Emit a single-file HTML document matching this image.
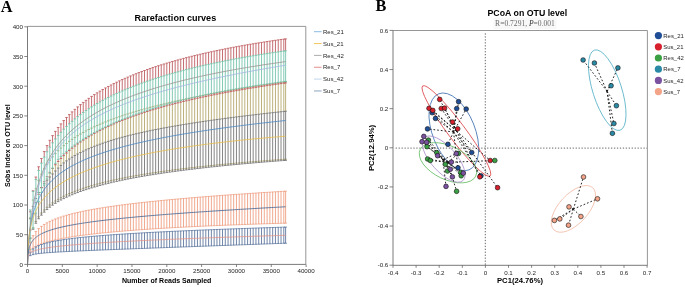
<!DOCTYPE html><html><head><meta charset="utf-8"><style>html,body{margin:0;padding:0;background:#fff;}svg{display:block;will-change:transform;}text{font-family:"Liberation Sans",sans-serif;}</style></head><body>
<svg width="685" height="287" viewBox="0 0 685 287">
<text x="0.8" y="11.5" style="font-family:'Liberation Serif',serif;font-weight:bold;font-size:16.3px">A</text>
<text x="134.6" y="21.4" textLength="81.6" lengthAdjust="spacingAndGlyphs" style="font-weight:bold;font-size:9.3px">Rarefaction curves</text>
<path d="M47.00 178.76V180.15M49.79 173.30V176.97M52.57 168.36V173.91M55.36 164.78V170.95M58.15 161.50V168.10M60.93 158.47V165.37M63.72 155.66V162.95M66.50 153.04V160.89M69.29 150.58V158.98M72.08 148.27V157.21M74.86 146.08V155.55M77.65 144.01V154.00M80.43 142.04V152.54M83.22 140.17V151.16M86.01 138.38V149.85M88.79 136.67V148.61M91.58 135.02V147.43M94.36 133.45V146.31M97.15 131.93V145.23M99.94 130.47V144.21M102.72 129.06V143.22M105.51 127.70V142.27M108.29 126.38V141.36M111.08 125.11V140.48M113.87 123.88V139.63M116.65 122.68V138.81M119.44 121.52V138.02M122.22 120.40V137.25M125.01 119.30V136.51M127.80 118.24V135.79M130.58 117.20V135.09M133.37 116.19V134.41M136.15 115.21V133.74M138.94 114.25V133.10M141.73 113.31V132.47M144.51 112.40V131.86M147.30 111.50V131.26M150.08 110.63V130.67M152.87 109.78V130.10M155.66 108.95V129.54M158.44 108.13V129.00M161.23 107.34V128.46M164.01 106.55V127.94M166.80 105.79V127.42M169.59 105.04V126.92M172.37 104.31V126.42M175.16 103.59V125.94M177.94 102.88V125.46M180.73 102.19V124.99M183.52 101.51V124.53M186.30 100.84V124.08M189.09 100.19V123.63M191.87 99.54V123.20M194.66 98.91V122.76M197.45 98.29V122.34M200.23 97.68V121.92M203.02 97.08V121.51M205.80 96.49V121.10M208.59 95.91V120.70M211.38 95.34V120.30M214.16 94.78V119.91M216.95 94.23V119.53M219.73 93.69V119.15M222.52 93.15V118.77M225.31 92.63V118.40M228.09 92.11V118.03M230.88 91.60V117.67M233.66 91.10V117.31M236.45 90.61V116.95M239.24 90.12V116.60M242.02 89.64V116.26M244.81 89.17V115.91M247.59 88.70V115.57M250.38 88.24V115.23M253.17 87.79V114.90M255.95 87.34V114.57M258.74 86.90V114.24M261.52 86.47V113.92M264.31 86.04V113.60M267.10 85.62V113.28M269.88 85.20V112.96M272.67 84.79V112.65M275.45 84.39V112.34M278.24 83.99V112.03M281.03 83.59V111.72M283.81 83.21V111.42M285.62 82.96V111.22" stroke="#b0a264" stroke-width="0.85" fill="none"/>
<path d="M28.99 217.81h2.60M28.99 237.67h2.60M31.77 200.04h2.60M31.77 227.77h2.60M34.56 188.85h2.60M34.56 221.46h2.60M37.34 180.66h2.60M37.34 216.79h2.60M40.13 174.19h2.60M40.13 213.07h2.60M42.92 168.85h2.60M42.92 209.97h2.60M45.70 164.29h2.60M45.70 207.31h2.60M48.49 160.32h2.60M48.49 204.98h2.60M51.27 156.80h2.60M51.27 202.89h2.60M54.06 153.63h2.60M54.06 201.02h2.60M56.85 150.76h2.60M56.85 199.31h2.60M59.63 148.12h2.60M59.63 197.73h2.60M62.42 145.69h2.60M62.42 196.28h2.60M65.20 143.43h2.60M65.20 194.92h2.60M67.99 141.32h2.60M67.99 193.65h2.60M70.78 139.35h2.60M70.78 192.46h2.60M73.56 137.48h2.60M73.56 191.34h2.60M76.35 135.72h2.60M76.35 190.28h2.60M79.13 134.05h2.60M79.13 189.27h2.60M81.92 132.46h2.60M81.92 188.31h2.60M84.71 130.95h2.60M84.71 187.39h2.60M87.49 129.50h2.60M87.49 186.52h2.60M90.28 128.11h2.60M90.28 185.68h2.60M93.06 126.78h2.60M93.06 184.87h2.60M95.85 125.50h2.60M95.85 184.10h2.60M98.64 124.27h2.60M98.64 183.36h2.60M101.42 123.08h2.60M101.42 182.64h2.60M104.21 121.94h2.60M104.21 181.95h2.60M106.99 120.83h2.60M106.99 181.28h2.60M109.78 119.75h2.60M109.78 180.63h2.60M112.57 118.71h2.60M112.57 180.01h2.60M115.35 117.70h2.60M115.35 179.40h2.60M118.14 116.71h2.60M118.14 178.81h2.60M120.92 115.76h2.60M120.92 178.24h2.60M123.71 114.83h2.60M123.71 177.68h2.60M126.50 113.92h2.60M126.50 177.14h2.60M129.28 113.04h2.60M129.28 176.62h2.60M132.07 112.18h2.60M132.07 176.11h2.60M134.85 111.34h2.60M134.85 175.61h2.60M137.64 110.52h2.60M137.64 175.12h2.60M140.43 109.72h2.60M140.43 174.65h2.60M143.21 108.93h2.60M143.21 174.18h2.60M146.00 108.16h2.60M146.00 173.73h2.60M148.78 107.41h2.60M148.78 173.29h2.60M151.57 106.67h2.60M151.57 172.86h2.60M154.36 105.95h2.60M154.36 172.44h2.60M157.14 105.24h2.60M157.14 172.02h2.60M159.93 104.55h2.60M159.93 171.62h2.60M162.71 103.86h2.60M162.71 171.22h2.60M165.50 103.19h2.60M165.50 170.84h2.60M168.29 102.54h2.60M168.29 170.46h2.60M171.07 101.89h2.60M171.07 170.08h2.60M173.86 101.25h2.60M173.86 169.72h2.60M176.64 100.63h2.60M176.64 169.36h2.60M179.43 100.01h2.60M179.43 169.01h2.60M182.22 99.41h2.60M182.22 168.67h2.60M185.00 98.81h2.60M185.00 168.33h2.60M187.79 98.22h2.60M187.79 168.00h2.60M190.57 97.64h2.60M190.57 167.67h2.60M193.36 97.07h2.60M193.36 167.35h2.60M196.15 96.51h2.60M196.15 167.03h2.60M198.93 95.96h2.60M198.93 166.72h2.60M201.72 95.41h2.60M201.72 166.42h2.60M204.50 94.87h2.60M204.50 166.12h2.60M207.29 94.34h2.60M207.29 165.83h2.60M210.08 93.81h2.60M210.08 165.54h2.60M212.86 93.30h2.60M212.86 165.25h2.60M215.65 92.78h2.60M215.65 164.97h2.60M218.43 92.28h2.60M218.43 164.69h2.60M221.22 91.78h2.60M221.22 164.42h2.60M224.01 91.29h2.60M224.01 164.16h2.60M226.79 90.80h2.60M226.79 163.89h2.60M229.58 90.32h2.60M229.58 163.63h2.60M232.36 89.84h2.60M232.36 163.38h2.60M235.15 89.37h2.60M235.15 163.12h2.60M237.94 88.91h2.60M237.94 162.88h2.60M240.72 88.45h2.60M240.72 162.63h2.60M243.51 87.99h2.60M243.51 162.39h2.60M246.29 87.54h2.60M246.29 162.15h2.60M249.08 87.09h2.60M249.08 161.92h2.60M251.87 86.65h2.60M251.87 161.69h2.60M254.65 86.21h2.60M254.65 161.46h2.60M257.44 85.78h2.60M257.44 161.23h2.60M260.22 85.35h2.60M260.22 161.01h2.60M263.01 84.93h2.60M263.01 160.79h2.60M265.80 84.51h2.60M265.80 160.58h2.60M268.58 84.09h2.60M268.58 160.36h2.60M271.37 83.68h2.60M271.37 160.15h2.60M274.15 83.27h2.60M274.15 159.95h2.60M276.94 82.87h2.60M276.94 159.74h2.60M279.73 82.46h2.60M279.73 159.54h2.60M282.51 82.07h2.60M282.51 159.34h2.60M284.32 81.81h2.60M284.32 159.21h2.60" stroke="#b0a264" stroke-width="0.8" fill="none"/>
<path d="M33.07 228.16V229.29M35.86 213.10V223.26M38.64 201.67V218.77M41.43 192.58V215.17M44.22 185.09V212.15M47.00 180.15V209.54M49.79 176.97V207.24M52.57 173.91V205.19M55.36 170.95V203.33M58.15 168.10V201.63M60.93 165.37V200.06M63.72 162.95V198.60M66.50 160.89V197.24M69.29 158.98V195.97M72.08 157.21V194.77M74.86 155.55V193.63M77.65 154.00V192.56M80.43 152.54V191.53M83.22 151.16V190.56M86.01 149.85V189.63M88.79 148.61V188.73M91.58 147.43V187.88M94.36 146.31V187.06M97.15 145.23V186.27M99.94 144.21V185.50M102.72 143.22V184.77M105.51 142.27V184.06M108.29 141.36V183.37M111.08 140.48V182.70M113.87 139.63V182.06M116.65 138.81V181.43M119.44 138.02V180.82M122.22 137.25V180.23M125.01 136.51V179.66M127.80 135.79V179.10M130.58 135.09V178.56M133.37 134.41V178.03M136.15 133.74V177.51M138.94 133.10V177.00M141.73 132.47V176.51M144.51 131.86V176.03M147.30 131.26V175.56M150.08 130.67V175.10M152.87 130.10V174.65M155.66 129.54V174.21M158.44 129.00V173.78M161.23 128.46V173.36M164.01 127.94V172.95M166.80 127.42V172.54M169.59 126.92V172.15M172.37 126.42V171.76M175.16 125.94V171.38M177.94 125.46V171.01M180.73 124.99V170.64M183.52 124.53V170.28M186.30 124.08V169.92M189.09 123.63V169.58M191.87 123.20V169.24M194.66 122.76V168.90M197.45 122.34V168.57M200.23 121.92V168.25M203.02 121.51V167.93M205.80 121.10V167.62M208.59 120.70V167.31M211.38 120.30V167.00M214.16 119.91V166.71M216.95 119.53V166.41M219.73 119.15V166.12M222.52 118.77V165.84M225.31 118.40V165.56M228.09 118.03V165.28M230.88 117.67V165.01M233.66 117.31V164.74M236.45 116.95V164.48M239.24 116.60V164.22M242.02 116.26V163.96M244.81 115.91V163.71M247.59 115.57V163.46M250.38 115.23V163.22M253.17 114.90V162.97M255.95 114.57V162.73M258.74 114.24V162.50M261.52 113.92V162.27M264.31 113.60V162.04M267.10 113.28V161.81M269.88 112.96V161.59M272.67 112.65V161.37M275.45 112.34V161.15M278.24 112.03V160.94M281.03 111.72V160.72M283.81 111.42V160.52M285.62 111.22V160.38" stroke="#6e6e6e" stroke-width="0.85" fill="none"/>
<path d="M28.99 218.74h2.60M28.99 238.67h2.60M31.77 206.40h2.60M31.77 229.29h2.60M34.56 198.51h2.60M34.56 223.26h2.60M37.34 192.58h2.60M37.34 218.77h2.60M40.13 187.77h2.60M40.13 215.17h2.60M42.92 183.70h2.60M42.92 212.15h2.60M45.70 180.15h2.60M45.70 209.54h2.60M48.49 176.97h2.60M48.49 207.24h2.60M51.27 173.91h2.60M51.27 205.19h2.60M54.06 170.95h2.60M54.06 203.33h2.60M56.85 168.10h2.60M56.85 201.63h2.60M59.63 165.37h2.60M59.63 200.06h2.60M62.42 162.95h2.60M62.42 198.60h2.60M65.20 160.89h2.60M65.20 197.24h2.60M67.99 158.98h2.60M67.99 195.97h2.60M70.78 157.21h2.60M70.78 194.77h2.60M73.56 155.55h2.60M73.56 193.63h2.60M76.35 154.00h2.60M76.35 192.56h2.60M79.13 152.54h2.60M79.13 191.53h2.60M81.92 151.16h2.60M81.92 190.56h2.60M84.71 149.85h2.60M84.71 189.63h2.60M87.49 148.61h2.60M87.49 188.73h2.60M90.28 147.43h2.60M90.28 187.88h2.60M93.06 146.31h2.60M93.06 187.06h2.60M95.85 145.23h2.60M95.85 186.27h2.60M98.64 144.21h2.60M98.64 185.50h2.60M101.42 143.22h2.60M101.42 184.77h2.60M104.21 142.27h2.60M104.21 184.06h2.60M106.99 141.36h2.60M106.99 183.37h2.60M109.78 140.48h2.60M109.78 182.70h2.60M112.57 139.63h2.60M112.57 182.06h2.60M115.35 138.81h2.60M115.35 181.43h2.60M118.14 138.02h2.60M118.14 180.82h2.60M120.92 137.25h2.60M120.92 180.23h2.60M123.71 136.51h2.60M123.71 179.66h2.60M126.50 135.79h2.60M126.50 179.10h2.60M129.28 135.09h2.60M129.28 178.56h2.60M132.07 134.41h2.60M132.07 178.03h2.60M134.85 133.74h2.60M134.85 177.51h2.60M137.64 133.10h2.60M137.64 177.00h2.60M140.43 132.47h2.60M140.43 176.51h2.60M143.21 131.86h2.60M143.21 176.03h2.60M146.00 131.26h2.60M146.00 175.56h2.60M148.78 130.67h2.60M148.78 175.10h2.60M151.57 130.10h2.60M151.57 174.65h2.60M154.36 129.54h2.60M154.36 174.21h2.60M157.14 129.00h2.60M157.14 173.78h2.60M159.93 128.46h2.60M159.93 173.36h2.60M162.71 127.94h2.60M162.71 172.95h2.60M165.50 127.42h2.60M165.50 172.54h2.60M168.29 126.92h2.60M168.29 172.15h2.60M171.07 126.42h2.60M171.07 171.76h2.60M173.86 125.94h2.60M173.86 171.38h2.60M176.64 125.46h2.60M176.64 171.01h2.60M179.43 124.99h2.60M179.43 170.64h2.60M182.22 124.53h2.60M182.22 170.28h2.60M185.00 124.08h2.60M185.00 169.92h2.60M187.79 123.63h2.60M187.79 169.58h2.60M190.57 123.20h2.60M190.57 169.24h2.60M193.36 122.76h2.60M193.36 168.90h2.60M196.15 122.34h2.60M196.15 168.57h2.60M198.93 121.92h2.60M198.93 168.25h2.60M201.72 121.51h2.60M201.72 167.93h2.60M204.50 121.10h2.60M204.50 167.62h2.60M207.29 120.70h2.60M207.29 167.31h2.60M210.08 120.30h2.60M210.08 167.00h2.60M212.86 119.91h2.60M212.86 166.71h2.60M215.65 119.53h2.60M215.65 166.41h2.60M218.43 119.15h2.60M218.43 166.12h2.60M221.22 118.77h2.60M221.22 165.84h2.60M224.01 118.40h2.60M224.01 165.56h2.60M226.79 118.03h2.60M226.79 165.28h2.60M229.58 117.67h2.60M229.58 165.01h2.60M232.36 117.31h2.60M232.36 164.74h2.60M235.15 116.95h2.60M235.15 164.48h2.60M237.94 116.60h2.60M237.94 164.22h2.60M240.72 116.26h2.60M240.72 163.96h2.60M243.51 115.91h2.60M243.51 163.71h2.60M246.29 115.57h2.60M246.29 163.46h2.60M249.08 115.23h2.60M249.08 163.22h2.60M251.87 114.90h2.60M251.87 162.97h2.60M254.65 114.57h2.60M254.65 162.73h2.60M257.44 114.24h2.60M257.44 162.50h2.60M260.22 113.92h2.60M260.22 162.27h2.60M263.01 113.60h2.60M263.01 162.04h2.60M265.80 113.28h2.60M265.80 161.81h2.60M268.58 112.96h2.60M268.58 161.59h2.60M271.37 112.65h2.60M271.37 161.37h2.60M274.15 112.34h2.60M274.15 161.15h2.60M276.94 112.03h2.60M276.94 160.94h2.60M279.73 111.72h2.60M279.73 160.72h2.60M282.51 111.42h2.60M282.51 160.52h2.60M284.32 111.22h2.60M284.32 160.38h2.60" stroke="#6e6e6e" stroke-width="0.8" fill="none"/>
<path d="M33.07 190.80V191.40M35.86 177.06V179.44M38.64 166.77V170.45M41.43 158.50V163.20M44.22 151.56V157.09M47.00 145.58V151.79M49.79 140.32V147.10M52.57 135.61V142.89M52.57 168.24V168.36M55.36 131.36V139.06M55.36 163.32V164.78M58.15 127.47V135.55M58.15 159.43V161.50M60.93 123.89V132.30M60.93 156.38V158.47M63.72 120.58V129.28M63.72 153.84V155.66M66.50 117.49V126.46M66.50 151.43V153.04M69.29 114.60V123.81M69.29 149.16V150.58M72.08 111.89V121.31M72.08 146.99V148.27M74.86 109.33V118.94M74.86 144.93V146.08M77.65 106.90V116.70M77.65 142.95V144.01M80.43 104.60V114.56M80.43 141.06V142.04M83.22 102.41V112.52M83.22 139.25V140.17M86.01 100.33V110.57M86.01 137.50V138.38M88.79 98.33V108.71M88.79 135.82V136.67M91.58 96.42V106.92M91.58 134.20V135.02M94.36 94.59V105.20M94.36 132.64V133.45M97.15 92.84V103.54M97.15 131.13V131.93M99.94 91.15V101.94M99.94 129.67V130.47M102.72 89.52V100.40M102.72 128.25V129.06M105.51 87.95V98.92M105.51 126.88V127.70M108.29 86.43V97.48M108.29 125.55V126.38M111.08 84.97V96.08M111.08 124.26V125.11M113.87 83.56V94.74M113.87 123.00V123.88M116.65 82.19V93.43M116.65 121.78V122.68M119.44 80.86V92.16M119.44 120.60V121.52M122.22 79.57V90.92M122.22 119.44V120.40M125.01 78.32V89.73M125.01 118.32V119.30M127.80 77.11V88.56M127.80 117.22V118.24M130.58 75.93V87.43M130.58 116.15V117.20M133.37 74.79V86.32M133.37 115.11V116.19M136.15 73.68V85.25M136.15 114.09V115.21M138.94 72.59V84.20M138.94 113.10V114.25M141.73 71.53V83.17M141.73 112.13V113.31M144.51 70.51V82.18M144.51 111.18V112.40M147.30 69.50V81.20M147.30 110.26V111.50M150.08 68.52V80.25M150.08 109.35V110.63M152.87 67.57V79.32M152.87 108.47V109.78M155.66 66.64V78.41M155.66 107.60V108.95M158.44 65.73V77.53M158.44 106.76V108.13M161.23 64.84V76.66M161.23 105.93V107.34M164.01 63.97V75.81M164.01 105.12V106.55M166.80 63.12V74.98M166.80 104.32V105.79M169.59 62.29V74.17M169.59 103.55V105.04M172.37 61.48V73.37M172.37 102.79V104.31M175.16 60.69V72.59M175.16 102.04V103.59M177.94 59.91V71.82M177.94 101.31V102.88M180.73 59.15V71.08M180.73 100.59V102.19M183.52 58.40V70.34M183.52 99.89V101.51M186.30 57.67V69.62M186.30 99.20V100.84M189.09 56.96V68.92M189.09 98.53V100.19M191.87 56.26V68.22M191.87 97.87V99.54M194.66 55.57V67.55M194.66 97.22V98.91M197.45 54.90V66.88M197.45 96.58V98.29M200.23 54.24V66.23M200.23 95.96V97.68M203.02 53.59V65.58M203.02 95.34V97.08M205.80 52.96V64.95M205.80 94.74V96.49M208.59 52.33V64.34M208.59 94.15V95.91M211.38 51.72V63.73M211.38 93.57V95.34M214.16 51.12V63.13M214.16 93.00V94.78M216.95 50.53V62.55M216.95 92.44V94.23M219.73 49.96V61.97M219.73 91.90V93.69M222.52 49.39V61.40M222.52 91.36V93.15M225.31 48.83V60.85M225.31 90.83V92.63M228.09 48.28V60.30M228.09 90.31V92.11M230.88 47.75V59.76M230.88 89.80V91.60M233.66 47.22V59.23M233.66 89.30V91.10M236.45 46.70V58.72M236.45 88.81V90.61M239.24 46.19V58.20M239.24 88.32V90.12M242.02 45.69V57.70M242.02 87.85V89.64M244.81 45.20V57.21M244.81 87.38V89.17M247.59 44.71V56.72M247.59 86.93V88.70M250.38 44.24V56.24M250.38 86.48V88.24M253.17 43.77V55.77M253.17 86.03V87.79M255.95 43.31V55.31M255.95 85.60V87.34M258.74 42.86V54.86M258.74 85.17V86.90M261.52 42.41V54.41M261.52 84.75V86.47M264.31 41.98V53.97M264.31 84.34V86.04M267.10 41.55V53.53M267.10 83.94V85.62M269.88 41.12V53.11M269.88 83.54V85.20M272.67 40.71V52.69M272.67 83.15V84.79M275.45 40.30V52.27M275.45 82.77V84.39M278.24 39.89V51.86M278.24 82.39V83.99M281.03 39.50V51.46M281.03 82.02V83.59M283.81 39.11V51.07M283.81 81.65V83.21M285.62 38.86V50.82M285.62 81.42V82.96" stroke="#bb5458" stroke-width="0.85" fill="none"/>
<path d="M28.99 211.83h2.60M28.99 230.03h2.60M31.77 190.80h2.60M31.77 213.78h2.60M34.56 177.06h2.60M34.56 202.74h2.60M37.34 166.77h2.60M37.34 194.33h2.60M40.13 158.50h2.60M40.13 187.49h2.60M42.92 151.56h2.60M42.92 181.73h2.60M45.70 145.58h2.60M45.70 176.73h2.60M48.49 140.32h2.60M48.49 172.32h2.60M51.27 135.61h2.60M51.27 168.36h2.60M54.06 131.36h2.60M54.06 164.78h2.60M56.85 127.47h2.60M56.85 161.50h2.60M59.63 123.89h2.60M59.63 158.47h2.60M62.42 120.58h2.60M62.42 155.66h2.60M65.20 117.49h2.60M65.20 153.04h2.60M67.99 114.60h2.60M67.99 150.58h2.60M70.78 111.89h2.60M70.78 148.27h2.60M73.56 109.33h2.60M73.56 146.08h2.60M76.35 106.90h2.60M76.35 144.01h2.60M79.13 104.60h2.60M79.13 142.04h2.60M81.92 102.41h2.60M81.92 140.17h2.60M84.71 100.33h2.60M84.71 138.38h2.60M87.49 98.33h2.60M87.49 136.67h2.60M90.28 96.42h2.60M90.28 135.02h2.60M93.06 94.59h2.60M93.06 133.45h2.60M95.85 92.84h2.60M95.85 131.93h2.60M98.64 91.15h2.60M98.64 130.47h2.60M101.42 89.52h2.60M101.42 129.06h2.60M104.21 87.95h2.60M104.21 127.70h2.60M106.99 86.43h2.60M106.99 126.38h2.60M109.78 84.97h2.60M109.78 125.11h2.60M112.57 83.56h2.60M112.57 123.88h2.60M115.35 82.19h2.60M115.35 122.68h2.60M118.14 80.86h2.60M118.14 121.52h2.60M120.92 79.57h2.60M120.92 120.40h2.60M123.71 78.32h2.60M123.71 119.30h2.60M126.50 77.11h2.60M126.50 118.24h2.60M129.28 75.93h2.60M129.28 117.20h2.60M132.07 74.79h2.60M132.07 116.19h2.60M134.85 73.68h2.60M134.85 115.21h2.60M137.64 72.59h2.60M137.64 114.25h2.60M140.43 71.53h2.60M140.43 113.31h2.60M143.21 70.51h2.60M143.21 112.40h2.60M146.00 69.50h2.60M146.00 111.50h2.60M148.78 68.52h2.60M148.78 110.63h2.60M151.57 67.57h2.60M151.57 109.78h2.60M154.36 66.64h2.60M154.36 108.95h2.60M157.14 65.73h2.60M157.14 108.13h2.60M159.93 64.84h2.60M159.93 107.34h2.60M162.71 63.97h2.60M162.71 106.55h2.60M165.50 63.12h2.60M165.50 105.79h2.60M168.29 62.29h2.60M168.29 105.04h2.60M171.07 61.48h2.60M171.07 104.31h2.60M173.86 60.69h2.60M173.86 103.59h2.60M176.64 59.91h2.60M176.64 102.88h2.60M179.43 59.15h2.60M179.43 102.19h2.60M182.22 58.40h2.60M182.22 101.51h2.60M185.00 57.67h2.60M185.00 100.84h2.60M187.79 56.96h2.60M187.79 100.19h2.60M190.57 56.26h2.60M190.57 99.54h2.60M193.36 55.57h2.60M193.36 98.91h2.60M196.15 54.90h2.60M196.15 98.29h2.60M198.93 54.24h2.60M198.93 97.68h2.60M201.72 53.59h2.60M201.72 97.08h2.60M204.50 52.96h2.60M204.50 96.49h2.60M207.29 52.33h2.60M207.29 95.91h2.60M210.08 51.72h2.60M210.08 95.34h2.60M212.86 51.12h2.60M212.86 94.78h2.60M215.65 50.53h2.60M215.65 94.23h2.60M218.43 49.96h2.60M218.43 93.69h2.60M221.22 49.39h2.60M221.22 93.15h2.60M224.01 48.83h2.60M224.01 92.63h2.60M226.79 48.28h2.60M226.79 92.11h2.60M229.58 47.75h2.60M229.58 91.60h2.60M232.36 47.22h2.60M232.36 91.10h2.60M235.15 46.70h2.60M235.15 90.61h2.60M237.94 46.19h2.60M237.94 90.12h2.60M240.72 45.69h2.60M240.72 89.64h2.60M243.51 45.20h2.60M243.51 89.17h2.60M246.29 44.71h2.60M246.29 88.70h2.60M249.08 44.24h2.60M249.08 88.24h2.60M251.87 43.77h2.60M251.87 87.79h2.60M254.65 43.31h2.60M254.65 87.34h2.60M257.44 42.86h2.60M257.44 86.90h2.60M260.22 42.41h2.60M260.22 86.47h2.60M263.01 41.98h2.60M263.01 86.04h2.60M265.80 41.55h2.60M265.80 85.62h2.60M268.58 41.12h2.60M268.58 85.20h2.60M271.37 40.71h2.60M271.37 84.79h2.60M274.15 40.30h2.60M274.15 84.39h2.60M276.94 39.89h2.60M276.94 83.99h2.60M279.73 39.50h2.60M279.73 83.59h2.60M282.51 39.11h2.60M282.51 83.21h2.60M284.32 38.86h2.60M284.32 82.96h2.60" stroke="#bb5458" stroke-width="0.8" fill="none"/>
<path d="M30.29 209.92V242.26M33.07 191.40V228.16M35.86 179.44V213.10M38.64 170.45V201.67M41.43 163.20V192.58M44.22 157.09V185.09M47.00 151.79V178.76M49.79 147.10V173.30M52.57 142.89V168.24M55.36 139.06V163.32M58.15 135.55V159.43M60.93 132.30V156.38M63.72 129.28V153.84M66.50 126.46V151.43M69.29 123.81V149.16M72.08 121.31V146.99M74.86 118.94V144.93M77.65 116.70V142.95M80.43 114.56V141.06M83.22 112.52V139.25M86.01 110.57V137.50M88.79 108.71V135.82M91.58 106.92V134.20M94.36 105.20V132.64M97.15 103.54V131.13M99.94 101.94V129.67M102.72 100.40V128.25M105.51 98.92V126.88M108.29 97.48V125.55M111.08 96.08V124.26M113.87 94.74V123.00M116.65 93.43V121.78M119.44 92.16V120.60M122.22 90.92V119.44M125.01 89.73V118.32M127.80 88.56V117.22M130.58 87.43V116.15M133.37 86.32V115.11M136.15 85.25V114.09M138.94 84.20V113.10M141.73 83.17V112.13M144.51 82.18V111.18M147.30 81.20V110.26M150.08 80.25V109.35M152.87 79.32V108.47M155.66 78.41V107.60M158.44 77.53V106.76M161.23 76.66V105.93M164.01 75.81V105.12M166.80 74.98V104.32M169.59 74.17V103.55M172.37 73.37V102.79M175.16 72.59V102.04M177.94 71.82V101.31M180.73 71.08V100.59M183.52 70.34V99.89M186.30 69.62V99.20M189.09 68.92V98.53M191.87 68.22V97.87M194.66 67.55V97.22M197.45 66.88V96.58M200.23 66.23V95.96M203.02 65.58V95.34M205.80 64.95V94.74M208.59 64.34V94.15M211.38 63.73V93.57M214.16 63.13V93.00M216.95 62.55V92.44M219.73 61.97V91.90M222.52 61.40V91.36M225.31 60.85V90.83M228.09 60.30V90.31M230.88 59.76V89.80M233.66 59.23V89.30M236.45 58.72V88.81M239.24 58.20V88.32M242.02 57.70V87.85M244.81 57.21V87.38M247.59 56.72V86.93M250.38 56.24V86.48M253.17 55.77V86.03M255.95 55.31V85.60M258.74 54.86V85.17M261.52 54.41V84.75M264.31 53.97V84.34M267.10 53.53V83.94M269.88 53.11V83.54M272.67 52.69V83.15M275.45 52.27V82.77M278.24 51.86V82.39M281.03 51.46V82.02M283.81 51.07V81.65M285.62 50.82V81.42" stroke="#6cbfa5" stroke-width="0.85" fill="none"/>
<path d="M28.99 209.92h2.60M28.99 249.28h2.60M31.77 191.40h2.60M31.77 228.16h2.60M34.56 179.44h2.60M34.56 213.10h2.60M37.34 170.45h2.60M37.34 201.67h2.60M40.13 163.20h2.60M40.13 192.58h2.60M42.92 157.09h2.60M42.92 185.09h2.60M45.70 151.79h2.60M45.70 178.76h2.60M48.49 147.10h2.60M48.49 173.30h2.60M51.27 142.89h2.60M51.27 168.24h2.60M54.06 139.06h2.60M54.06 163.32h2.60M56.85 135.55h2.60M56.85 159.43h2.60M59.63 132.30h2.60M59.63 156.38h2.60M62.42 129.28h2.60M62.42 153.84h2.60M65.20 126.46h2.60M65.20 151.43h2.60M67.99 123.81h2.60M67.99 149.16h2.60M70.78 121.31h2.60M70.78 146.99h2.60M73.56 118.94h2.60M73.56 144.93h2.60M76.35 116.70h2.60M76.35 142.95h2.60M79.13 114.56h2.60M79.13 141.06h2.60M81.92 112.52h2.60M81.92 139.25h2.60M84.71 110.57h2.60M84.71 137.50h2.60M87.49 108.71h2.60M87.49 135.82h2.60M90.28 106.92h2.60M90.28 134.20h2.60M93.06 105.20h2.60M93.06 132.64h2.60M95.85 103.54h2.60M95.85 131.13h2.60M98.64 101.94h2.60M98.64 129.67h2.60M101.42 100.40h2.60M101.42 128.25h2.60M104.21 98.92h2.60M104.21 126.88h2.60M106.99 97.48h2.60M106.99 125.55h2.60M109.78 96.08h2.60M109.78 124.26h2.60M112.57 94.74h2.60M112.57 123.00h2.60M115.35 93.43h2.60M115.35 121.78h2.60M118.14 92.16h2.60M118.14 120.60h2.60M120.92 90.92h2.60M120.92 119.44h2.60M123.71 89.73h2.60M123.71 118.32h2.60M126.50 88.56h2.60M126.50 117.22h2.60M129.28 87.43h2.60M129.28 116.15h2.60M132.07 86.32h2.60M132.07 115.11h2.60M134.85 85.25h2.60M134.85 114.09h2.60M137.64 84.20h2.60M137.64 113.10h2.60M140.43 83.17h2.60M140.43 112.13h2.60M143.21 82.18h2.60M143.21 111.18h2.60M146.00 81.20h2.60M146.00 110.26h2.60M148.78 80.25h2.60M148.78 109.35h2.60M151.57 79.32h2.60M151.57 108.47h2.60M154.36 78.41h2.60M154.36 107.60h2.60M157.14 77.53h2.60M157.14 106.76h2.60M159.93 76.66h2.60M159.93 105.93h2.60M162.71 75.81h2.60M162.71 105.12h2.60M165.50 74.98h2.60M165.50 104.32h2.60M168.29 74.17h2.60M168.29 103.55h2.60M171.07 73.37h2.60M171.07 102.79h2.60M173.86 72.59h2.60M173.86 102.04h2.60M176.64 71.82h2.60M176.64 101.31h2.60M179.43 71.08h2.60M179.43 100.59h2.60M182.22 70.34h2.60M182.22 99.89h2.60M185.00 69.62h2.60M185.00 99.20h2.60M187.79 68.92h2.60M187.79 98.53h2.60M190.57 68.22h2.60M190.57 97.87h2.60M193.36 67.55h2.60M193.36 97.22h2.60M196.15 66.88h2.60M196.15 96.58h2.60M198.93 66.23h2.60M198.93 95.96h2.60M201.72 65.58h2.60M201.72 95.34h2.60M204.50 64.95h2.60M204.50 94.74h2.60M207.29 64.34h2.60M207.29 94.15h2.60M210.08 63.73h2.60M210.08 93.57h2.60M212.86 63.13h2.60M212.86 93.00h2.60M215.65 62.55h2.60M215.65 92.44h2.60M218.43 61.97h2.60M218.43 91.90h2.60M221.22 61.40h2.60M221.22 91.36h2.60M224.01 60.85h2.60M224.01 90.83h2.60M226.79 60.30h2.60M226.79 90.31h2.60M229.58 59.76h2.60M229.58 89.80h2.60M232.36 59.23h2.60M232.36 89.30h2.60M235.15 58.72h2.60M235.15 88.81h2.60M237.94 58.20h2.60M237.94 88.32h2.60M240.72 57.70h2.60M240.72 87.85h2.60M243.51 57.21h2.60M243.51 87.38h2.60M246.29 56.72h2.60M246.29 86.93h2.60M249.08 56.24h2.60M249.08 86.48h2.60M251.87 55.77h2.60M251.87 86.03h2.60M254.65 55.31h2.60M254.65 85.60h2.60M257.44 54.86h2.60M257.44 85.17h2.60M260.22 54.41h2.60M260.22 84.75h2.60M263.01 53.97h2.60M263.01 84.34h2.60M265.80 53.53h2.60M265.80 83.94h2.60M268.58 53.11h2.60M268.58 83.54h2.60M271.37 52.69h2.60M271.37 83.15h2.60M274.15 52.27h2.60M274.15 82.77h2.60M276.94 51.86h2.60M276.94 82.39h2.60M279.73 51.46h2.60M279.73 82.02h2.60M282.51 51.07h2.60M282.51 81.65h2.60M284.32 50.82h2.60M284.32 81.42h2.60" stroke="#6cbfa5" stroke-width="0.8" fill="none"/>
<path d="M30.29 242.26V250.96M33.07 235.64V248.23M35.86 231.59V246.43M38.64 228.65V245.04M41.43 226.34V243.89M44.22 224.43V242.91M47.00 222.80V242.04M49.79 221.37V241.27M52.57 220.10V240.56M55.36 218.96V239.91M58.15 217.93V239.31M60.93 216.97V238.74M63.72 216.09V238.22M66.50 215.26V237.72M69.29 214.49V237.25M72.08 213.77V236.81M74.86 213.08V236.38M77.65 212.44V235.98M80.43 211.82V235.59M83.22 211.23V235.22M86.01 210.67V234.86M88.79 210.13V234.52M91.58 209.61V234.19M94.36 209.11V233.87M97.15 208.63V233.56M99.94 208.16V233.26M102.72 207.72V232.97M105.51 207.28V232.69M108.29 206.86V232.42M111.08 206.45V232.15M113.87 206.05V231.90M116.65 205.67V231.65M119.44 205.29V231.40M122.22 204.92V231.17M125.01 204.56V230.94M127.80 204.21V230.71M130.58 203.87V230.49M133.37 203.54V230.28M136.15 203.21V230.07M138.94 202.89V229.87M141.73 202.58V229.67M144.51 202.27V229.47M147.30 201.97V229.28M150.08 201.67V229.09M152.87 201.38V228.91M155.66 201.10V228.73M158.44 200.82V228.56M161.23 200.54V228.39M164.01 200.27V228.22M166.80 200.00V228.05M169.59 199.74V227.89M172.37 199.48V227.73M175.16 199.23V227.58M177.94 198.98V227.43M180.73 198.73V227.28M183.52 198.48V227.13M186.30 198.24V226.98M189.09 198.01V226.84M191.87 197.77V226.70M194.66 197.54V226.57M197.45 197.31V226.43M200.23 197.09V226.30M203.02 196.86V226.17M205.80 196.64V226.04M208.59 196.43V225.92M211.38 196.21V225.79M214.16 196.00V225.67M216.95 195.79V225.55M219.73 195.58V225.44M222.52 195.37V225.32M225.31 195.17V225.21M228.09 194.97V225.10M230.88 194.77V224.99M233.66 194.57V224.88M236.45 194.37V224.77M239.24 194.18V224.67M242.02 193.99V224.56M244.81 193.80V224.46M247.59 193.61V224.36M250.38 193.42V224.26M253.17 193.24V224.17M255.95 193.05V224.07M258.74 192.87V223.98M261.52 192.69V223.88M264.31 192.51V223.79M267.10 192.33V223.70M269.88 192.16V223.61M272.67 191.98V223.53M275.45 191.81V223.44M278.24 191.64V223.36M281.03 191.46V223.27M283.81 191.29V223.19M285.62 191.18V223.14" stroke="#ee9a7c" stroke-width="0.85" fill="none"/>
<path d="M28.99 242.26h2.60M28.99 250.96h2.60M31.77 235.64h2.60M31.77 248.23h2.60M34.56 231.59h2.60M34.56 246.43h2.60M37.34 228.65h2.60M37.34 245.04h2.60M40.13 226.34h2.60M40.13 243.89h2.60M42.92 224.43h2.60M42.92 242.91h2.60M45.70 222.80h2.60M45.70 242.04h2.60M48.49 221.37h2.60M48.49 241.27h2.60M51.27 220.10h2.60M51.27 240.56h2.60M54.06 218.96h2.60M54.06 239.91h2.60M56.85 217.93h2.60M56.85 239.31h2.60M59.63 216.97h2.60M59.63 238.74h2.60M62.42 216.09h2.60M62.42 238.22h2.60M65.20 215.26h2.60M65.20 237.72h2.60M67.99 214.49h2.60M67.99 237.25h2.60M70.78 213.77h2.60M70.78 236.81h2.60M73.56 213.08h2.60M73.56 236.38h2.60M76.35 212.44h2.60M76.35 235.98h2.60M79.13 211.82h2.60M79.13 235.59h2.60M81.92 211.23h2.60M81.92 235.22h2.60M84.71 210.67h2.60M84.71 234.86h2.60M87.49 210.13h2.60M87.49 234.52h2.60M90.28 209.61h2.60M90.28 234.19h2.60M93.06 209.11h2.60M93.06 233.87h2.60M95.85 208.63h2.60M95.85 233.56h2.60M98.64 208.16h2.60M98.64 233.26h2.60M101.42 207.72h2.60M101.42 232.97h2.60M104.21 207.28h2.60M104.21 232.69h2.60M106.99 206.86h2.60M106.99 232.42h2.60M109.78 206.45h2.60M109.78 232.15h2.60M112.57 206.05h2.60M112.57 231.90h2.60M115.35 205.67h2.60M115.35 231.65h2.60M118.14 205.29h2.60M118.14 231.40h2.60M120.92 204.92h2.60M120.92 231.17h2.60M123.71 204.56h2.60M123.71 230.94h2.60M126.50 204.21h2.60M126.50 230.71h2.60M129.28 203.87h2.60M129.28 230.49h2.60M132.07 203.54h2.60M132.07 230.28h2.60M134.85 203.21h2.60M134.85 230.07h2.60M137.64 202.89h2.60M137.64 229.87h2.60M140.43 202.58h2.60M140.43 229.67h2.60M143.21 202.27h2.60M143.21 229.47h2.60M146.00 201.97h2.60M146.00 229.28h2.60M148.78 201.67h2.60M148.78 229.09h2.60M151.57 201.38h2.60M151.57 228.91h2.60M154.36 201.10h2.60M154.36 228.73h2.60M157.14 200.82h2.60M157.14 228.56h2.60M159.93 200.54h2.60M159.93 228.39h2.60M162.71 200.27h2.60M162.71 228.22h2.60M165.50 200.00h2.60M165.50 228.05h2.60M168.29 199.74h2.60M168.29 227.89h2.60M171.07 199.48h2.60M171.07 227.73h2.60M173.86 199.23h2.60M173.86 227.58h2.60M176.64 198.98h2.60M176.64 227.43h2.60M179.43 198.73h2.60M179.43 227.28h2.60M182.22 198.48h2.60M182.22 227.13h2.60M185.00 198.24h2.60M185.00 226.98h2.60M187.79 198.01h2.60M187.79 226.84h2.60M190.57 197.77h2.60M190.57 226.70h2.60M193.36 197.54h2.60M193.36 226.57h2.60M196.15 197.31h2.60M196.15 226.43h2.60M198.93 197.09h2.60M198.93 226.30h2.60M201.72 196.86h2.60M201.72 226.17h2.60M204.50 196.64h2.60M204.50 226.04h2.60M207.29 196.43h2.60M207.29 225.92h2.60M210.08 196.21h2.60M210.08 225.79h2.60M212.86 196.00h2.60M212.86 225.67h2.60M215.65 195.79h2.60M215.65 225.55h2.60M218.43 195.58h2.60M218.43 225.44h2.60M221.22 195.37h2.60M221.22 225.32h2.60M224.01 195.17h2.60M224.01 225.21h2.60M226.79 194.97h2.60M226.79 225.10h2.60M229.58 194.77h2.60M229.58 224.99h2.60M232.36 194.57h2.60M232.36 224.88h2.60M235.15 194.37h2.60M235.15 224.77h2.60M237.94 194.18h2.60M237.94 224.67h2.60M240.72 193.99h2.60M240.72 224.56h2.60M243.51 193.80h2.60M243.51 224.46h2.60M246.29 193.61h2.60M246.29 224.36h2.60M249.08 193.42h2.60M249.08 224.26h2.60M251.87 193.24h2.60M251.87 224.17h2.60M254.65 193.05h2.60M254.65 224.07h2.60M257.44 192.87h2.60M257.44 223.98h2.60M260.22 192.69h2.60M260.22 223.88h2.60M263.01 192.51h2.60M263.01 223.79h2.60M265.80 192.33h2.60M265.80 223.70h2.60M268.58 192.16h2.60M268.58 223.61h2.60M271.37 191.98h2.60M271.37 223.53h2.60M274.15 191.81h2.60M274.15 223.44h2.60M276.94 191.64h2.60M276.94 223.36h2.60M279.73 191.46h2.60M279.73 223.27h2.60M282.51 191.29h2.60M282.51 223.19h2.60M284.32 191.18h2.60M284.32 223.14h2.60" stroke="#ee9a7c" stroke-width="0.8" fill="none"/>
<path d="M30.29 252.12V255.64M33.07 248.95V254.63M35.86 247.02V254.04M38.64 245.62V253.62M41.43 244.52V253.29M44.22 243.61V253.02M47.00 242.83V252.78M49.79 242.14V252.57M52.57 241.54V252.38M55.36 240.99V252.20M58.15 240.49V252.03M60.93 240.03V251.87M63.72 239.60V251.72M66.50 239.20V251.57M69.29 238.82V251.43M72.08 238.47V251.30M74.86 238.14V251.17M77.65 237.82V251.04M80.43 237.52V250.91M83.22 237.23V250.79M86.01 236.95V250.67M88.79 236.69V250.55M91.58 236.43V250.43M94.36 236.19V250.32M97.15 235.95V250.20M99.94 235.72V250.09M102.72 235.50V249.98M105.51 235.28V249.87M108.29 235.07V249.75M111.08 234.87V249.65M113.87 234.67V249.54M116.65 234.48V249.43M119.44 234.29V249.32M122.22 234.11V249.21M125.01 233.93V249.11M127.80 233.75V249.00M130.58 233.58V248.89M133.37 233.41V248.79M136.15 233.25V248.68M138.94 233.09V248.58M141.73 232.93V248.48M144.51 232.78V248.37M147.30 232.62V248.27M150.08 232.47V248.16M152.87 232.33V248.06M155.66 232.18V247.96M158.44 232.04V247.85M161.23 231.90V247.75M164.01 231.76V247.65M166.80 231.63V247.55M169.59 231.50V247.44M172.37 231.36V247.34M175.16 231.24V247.24M177.94 231.11V247.14M180.73 230.98V247.03M183.52 230.86V246.93M186.30 230.73V246.83M189.09 230.61V246.73M191.87 230.49V246.63M194.66 230.38V246.53M197.45 230.26V246.42M200.23 230.14V246.32M203.02 230.03V246.22M205.80 229.92V246.12M208.59 229.81V246.02M211.38 229.70V245.92M214.16 229.59V245.81M216.95 229.48V245.71M219.73 229.37V245.61M222.52 229.27V245.51M225.31 229.16V245.41M228.09 229.06V245.31M230.88 228.95V245.21M233.66 228.85V245.11M236.45 228.75V245.00M239.24 228.65V244.90M242.02 228.55V244.80M244.81 228.45V244.70M247.59 228.36V244.60M250.38 228.26V244.50M253.17 228.16V244.40M255.95 228.07V244.29M258.74 227.98V244.19M261.52 227.88V244.09M264.31 227.79V243.99M267.10 227.70V243.89M269.88 227.61V243.79M272.67 227.52V243.69M275.45 227.43V243.58M278.24 227.34V243.48M281.03 227.25V243.38M283.81 227.16V243.28M285.62 227.10V243.21" stroke="#56709a" stroke-width="0.85" fill="none"/>
<path d="M28.99 252.12h2.60M28.99 255.64h2.60M31.77 248.95h2.60M31.77 254.63h2.60M34.56 247.02h2.60M34.56 254.04h2.60M37.34 245.62h2.60M37.34 253.62h2.60M40.13 244.52h2.60M40.13 253.29h2.60M42.92 243.61h2.60M42.92 253.02h2.60M45.70 242.83h2.60M45.70 252.78h2.60M48.49 242.14h2.60M48.49 252.57h2.60M51.27 241.54h2.60M51.27 252.38h2.60M54.06 240.99h2.60M54.06 252.20h2.60M56.85 240.49h2.60M56.85 252.03h2.60M59.63 240.03h2.60M59.63 251.87h2.60M62.42 239.60h2.60M62.42 251.72h2.60M65.20 239.20h2.60M65.20 251.57h2.60M67.99 238.82h2.60M67.99 251.43h2.60M70.78 238.47h2.60M70.78 251.30h2.60M73.56 238.14h2.60M73.56 251.17h2.60M76.35 237.82h2.60M76.35 251.04h2.60M79.13 237.52h2.60M79.13 250.91h2.60M81.92 237.23h2.60M81.92 250.79h2.60M84.71 236.95h2.60M84.71 250.67h2.60M87.49 236.69h2.60M87.49 250.55h2.60M90.28 236.43h2.60M90.28 250.43h2.60M93.06 236.19h2.60M93.06 250.32h2.60M95.85 235.95h2.60M95.85 250.20h2.60M98.64 235.72h2.60M98.64 250.09h2.60M101.42 235.50h2.60M101.42 249.98h2.60M104.21 235.28h2.60M104.21 249.87h2.60M106.99 235.07h2.60M106.99 249.75h2.60M109.78 234.87h2.60M109.78 249.65h2.60M112.57 234.67h2.60M112.57 249.54h2.60M115.35 234.48h2.60M115.35 249.43h2.60M118.14 234.29h2.60M118.14 249.32h2.60M120.92 234.11h2.60M120.92 249.21h2.60M123.71 233.93h2.60M123.71 249.11h2.60M126.50 233.75h2.60M126.50 249.00h2.60M129.28 233.58h2.60M129.28 248.89h2.60M132.07 233.41h2.60M132.07 248.79h2.60M134.85 233.25h2.60M134.85 248.68h2.60M137.64 233.09h2.60M137.64 248.58h2.60M140.43 232.93h2.60M140.43 248.48h2.60M143.21 232.78h2.60M143.21 248.37h2.60M146.00 232.62h2.60M146.00 248.27h2.60M148.78 232.47h2.60M148.78 248.16h2.60M151.57 232.33h2.60M151.57 248.06h2.60M154.36 232.18h2.60M154.36 247.96h2.60M157.14 232.04h2.60M157.14 247.85h2.60M159.93 231.90h2.60M159.93 247.75h2.60M162.71 231.76h2.60M162.71 247.65h2.60M165.50 231.63h2.60M165.50 247.55h2.60M168.29 231.50h2.60M168.29 247.44h2.60M171.07 231.36h2.60M171.07 247.34h2.60M173.86 231.24h2.60M173.86 247.24h2.60M176.64 231.11h2.60M176.64 247.14h2.60M179.43 230.98h2.60M179.43 247.03h2.60M182.22 230.86h2.60M182.22 246.93h2.60M185.00 230.73h2.60M185.00 246.83h2.60M187.79 230.61h2.60M187.79 246.73h2.60M190.57 230.49h2.60M190.57 246.63h2.60M193.36 230.38h2.60M193.36 246.53h2.60M196.15 230.26h2.60M196.15 246.42h2.60M198.93 230.14h2.60M198.93 246.32h2.60M201.72 230.03h2.60M201.72 246.22h2.60M204.50 229.92h2.60M204.50 246.12h2.60M207.29 229.81h2.60M207.29 246.02h2.60M210.08 229.70h2.60M210.08 245.92h2.60M212.86 229.59h2.60M212.86 245.81h2.60M215.65 229.48h2.60M215.65 245.71h2.60M218.43 229.37h2.60M218.43 245.61h2.60M221.22 229.27h2.60M221.22 245.51h2.60M224.01 229.16h2.60M224.01 245.41h2.60M226.79 229.06h2.60M226.79 245.31h2.60M229.58 228.95h2.60M229.58 245.21h2.60M232.36 228.85h2.60M232.36 245.11h2.60M235.15 228.75h2.60M235.15 245.00h2.60M237.94 228.65h2.60M237.94 244.90h2.60M240.72 228.55h2.60M240.72 244.80h2.60M243.51 228.45h2.60M243.51 244.70h2.60M246.29 228.36h2.60M246.29 244.60h2.60M249.08 228.26h2.60M249.08 244.50h2.60M251.87 228.16h2.60M251.87 244.40h2.60M254.65 228.07h2.60M254.65 244.29h2.60M257.44 227.98h2.60M257.44 244.19h2.60M260.22 227.88h2.60M260.22 244.09h2.60M263.01 227.79h2.60M263.01 243.99h2.60M265.80 227.70h2.60M265.80 243.89h2.60M268.58 227.61h2.60M268.58 243.79h2.60M271.37 227.52h2.60M271.37 243.69h2.60M274.15 227.43h2.60M274.15 243.58h2.60M276.94 227.34h2.60M276.94 243.48h2.60M279.73 227.25h2.60M279.73 243.38h2.60M282.51 227.16h2.60M282.51 243.28h2.60M284.32 227.10h2.60M284.32 243.21h2.60" stroke="#56709a" stroke-width="0.8" fill="none"/>
<polyline points="27.50,264.40 27.74,258.83 27.97,254.21 28.21,250.10 28.44,246.38 28.68,242.97 28.92,239.83 29.15,236.92 29.39,234.21 29.62,231.66 29.86,229.27 30.10,227.01 30.33,224.86 30.57,222.83 30.81,220.89 31.04,219.04 31.28,217.27 31.51,215.57 31.75,213.94 31.99,212.37 32.22,210.86 32.46,209.41 32.69,208.00 32.93,206.64 33.17,205.32 33.40,204.05 33.64,202.81 33.87,201.61 34.11,200.44 34.35,199.31 34.58,198.20 34.82,197.12 35.06,196.08 35.29,195.05 35.53,194.06 35.76,193.08 36.00,192.13 36.24,191.20 36.47,190.29 36.71,189.40 36.94,188.53 37.18,187.67 37.42,186.84 37.65,186.02 37.89,185.21 38.12,184.42 38.36,183.65 38.60,182.89 38.83,182.14 39.07,181.41 39.31,180.69 39.54,179.98 39.78,179.29 40.01,178.60 40.25,177.93 40.49,177.27 40.72,176.61 40.96,175.97 41.19,175.34 41.43,174.72 43.48,169.66 45.53,165.16 47.59,161.09 49.64,157.39 51.69,153.99 53.74,150.85 55.79,147.93 57.85,145.20 59.90,142.64 61.95,140.23 64.00,137.95 66.05,135.79 68.11,133.74 70.16,131.79 72.21,129.92 74.26,128.14 76.31,126.43 78.37,124.79 80.42,123.21 82.47,121.69 84.52,120.22 86.57,118.81 88.63,117.45 90.68,116.13 92.73,114.85 94.78,113.61 96.84,112.41 98.89,111.24 100.94,110.10 102.99,109.00 105.04,107.93 107.10,106.89 109.15,105.87 111.20,104.88 113.25,103.91 115.30,102.97 117.36,102.05 119.41,101.15 121.46,100.27 123.51,99.41 125.56,98.56 127.62,97.74 129.67,96.94 131.72,96.15 133.77,95.37 135.82,94.62 137.88,93.87 139.93,93.14 141.98,92.43 144.03,91.73 146.08,91.04 148.14,90.37 150.19,89.70 152.24,89.05 154.29,88.41 156.34,87.78 158.40,87.16 160.45,86.55 162.50,85.95 164.55,85.37 166.60,84.79 168.66,84.22 170.71,83.65 172.76,83.10 174.81,82.56 176.86,82.02 178.92,81.50 180.97,80.98 183.02,80.46 185.07,79.96 187.12,79.46 189.18,78.97 191.23,78.49 193.28,78.01 195.33,77.54 197.39,77.08 199.44,76.62 201.49,76.17 203.54,75.72 205.59,75.28 207.65,74.85 209.70,74.42 211.75,74.00 213.80,73.58 215.85,73.17 217.91,72.76 219.96,72.36 222.01,71.96 224.06,71.57 226.11,71.18 228.17,70.79 230.22,70.42 232.27,70.04 234.32,69.67 236.37,69.31 238.43,68.95 240.48,68.59 242.53,68.24 244.58,67.89 246.63,67.54 248.69,67.20 250.74,66.86 252.79,66.53 254.84,66.20 256.89,65.87 258.95,65.55 261.00,65.23 263.05,64.91 265.10,64.60 267.15,64.29 269.21,63.98 271.26,63.68 273.31,63.38 275.36,63.08 277.41,62.79 279.47,62.50 281.52,62.21 283.57,61.92 285.62,61.64" stroke="#9a9090" stroke-width="0.8" fill="none"/>
<polyline points="27.50,264.40 27.74,261.26 27.97,257.38 28.21,253.70 28.44,250.25 28.68,247.03 28.92,244.01 29.15,241.18 29.39,238.51 29.62,235.99 29.86,233.60 30.10,231.34 30.33,229.18 30.57,227.12 30.81,225.16 31.04,223.28 31.28,221.48 31.51,219.74 31.75,218.08 31.99,216.47 32.22,214.93 32.46,213.43 32.69,211.99 32.93,210.60 33.17,209.24 33.40,207.93 33.64,206.66 33.87,205.43 34.11,204.23 34.35,203.06 34.58,201.92 34.82,200.82 35.06,199.74 35.29,198.69 35.53,197.66 35.76,196.66 36.00,195.68 36.24,194.73 36.47,193.80 36.71,192.88 36.94,191.99 37.18,191.11 37.42,190.26 37.65,189.42 37.89,188.59 38.12,187.79 38.36,186.99 38.60,186.22 38.83,185.46 39.07,184.71 39.31,183.97 39.54,183.25 39.78,182.54 40.01,181.84 40.25,181.16 40.49,180.48 40.72,179.82 40.96,179.17 41.19,178.52 41.43,177.89 43.48,172.77 45.53,168.23 47.59,164.15 49.64,160.46 51.69,157.08 53.74,153.96 55.79,151.08 57.85,148.40 59.90,145.89 61.95,143.53 64.00,141.31 66.05,139.22 68.11,137.23 70.16,135.34 72.21,133.54 74.26,131.82 76.31,130.17 78.37,128.59 80.42,127.08 82.47,125.63 84.52,124.22 86.57,122.87 88.63,121.57 90.68,120.31 92.73,119.09 94.78,117.90 96.84,116.76 98.89,115.64 100.94,114.56 102.99,113.51 105.04,112.49 107.10,111.49 109.15,110.52 111.20,109.57 113.25,108.65 115.30,107.74 117.36,106.86 119.41,106.00 121.46,105.16 123.51,104.33 125.56,103.52 127.62,102.73 129.67,101.96 131.72,101.19 133.77,100.45 135.82,99.72 137.88,99.00 139.93,98.29 141.98,97.60 144.03,96.91 146.08,96.24 148.14,95.58 150.19,94.93 152.24,94.29 154.29,93.67 156.34,93.05 158.40,92.44 160.45,91.83 162.50,91.24 164.55,90.66 166.60,90.08 168.66,89.51 170.71,88.95 172.76,88.40 174.81,87.85 176.86,87.31 178.92,86.78 180.97,86.26 183.02,85.74 185.07,85.22 187.12,84.72 189.18,84.21 191.23,83.72 193.28,83.23 195.33,82.74 197.39,82.26 199.44,81.79 201.49,81.32 203.54,80.86 205.59,80.40 207.65,79.94 209.70,79.49 211.75,79.04 213.80,78.60 215.85,78.16 217.91,77.73 219.96,77.30 222.01,76.87 224.06,76.45 226.11,76.03 228.17,75.62 230.22,75.21 232.27,74.80 234.32,74.39 236.37,73.99 238.43,73.59 240.48,73.20 242.53,72.81 244.58,72.42 246.63,72.03 248.69,71.65 250.74,71.27 252.79,70.90 254.84,70.52 256.89,70.15 258.95,69.78 261.00,69.41 263.05,69.05 265.10,68.69 267.15,68.33 269.21,67.97 271.26,67.62 273.31,67.27 275.36,66.92 277.41,66.57 279.47,66.23 281.52,65.88 283.57,65.54 285.62,65.20" stroke="#a4b4e0" stroke-width="0.8" fill="none"/>
<polyline points="27.50,264.40 27.74,257.86 27.97,252.82 28.21,248.67 28.44,245.13 28.68,242.06 28.92,239.34 29.15,236.89 29.39,234.68 29.62,232.65 29.86,230.78 30.10,229.05 30.33,227.43 30.57,225.91 30.81,224.49 31.04,223.14 31.28,221.87 31.51,220.66 31.75,219.51 31.99,218.41 32.22,217.36 32.46,216.35 32.69,215.38 32.93,214.45 33.17,213.55 33.40,212.69 33.64,211.85 33.87,211.05 34.11,210.27 34.35,209.51 34.58,208.78 34.82,208.06 35.06,207.37 35.29,206.70 35.53,206.04 35.76,205.41 36.00,204.78 36.24,204.18 36.47,203.59 36.71,203.01 36.94,202.44 37.18,201.89 37.42,201.35 37.65,200.83 37.89,200.31 38.12,199.80 38.36,199.31 38.60,198.82 38.83,198.34 39.07,197.88 39.31,197.42 39.54,196.97 39.78,196.52 40.01,196.09 40.25,195.66 40.49,195.24 40.72,194.83 40.96,194.42 41.19,194.02 41.43,193.63 43.48,190.45 45.53,187.64 47.59,185.11 49.64,182.81 51.69,180.70 53.74,178.76 55.79,176.95 57.85,175.27 59.90,173.69 61.95,172.20 64.00,170.79 66.05,169.46 68.11,168.19 70.16,166.98 72.21,165.83 74.26,164.72 76.31,163.67 78.37,162.65 80.42,161.67 82.47,160.72 84.52,159.81 86.57,158.93 88.63,158.08 90.68,157.25 92.73,156.45 94.78,155.67 96.84,154.92 98.89,154.18 100.94,153.47 102.99,152.77 105.04,152.09 107.10,151.43 109.15,150.79 111.20,150.15 113.25,149.54 115.30,148.94 117.36,148.35 119.41,147.77 121.46,147.21 123.51,146.65 125.56,146.11 127.62,145.58 129.67,145.06 131.72,144.55 133.77,144.05 135.82,143.55 137.88,143.07 139.93,142.59 141.98,142.12 144.03,141.66 146.08,141.21 148.14,140.77 150.19,140.33 152.24,139.90 154.29,139.47 156.34,139.05 158.40,138.64 160.45,138.24 162.50,137.84 164.55,137.44 166.60,137.05 168.66,136.67 170.71,136.29 172.76,135.92 174.81,135.55 176.86,135.18 178.92,134.82 180.97,134.47 183.02,134.12 185.07,133.77 187.12,133.43 189.18,133.09 191.23,132.76 193.28,132.43 195.33,132.10 197.39,131.78 199.44,131.46 201.49,131.15 203.54,130.84 205.59,130.53 207.65,130.22 209.70,129.92 211.75,129.62 213.80,129.33 215.85,129.03 217.91,128.74 219.96,128.46 222.01,128.17 224.06,127.89 226.11,127.61 228.17,127.34 230.22,127.06 232.27,126.79 234.32,126.52 236.37,126.26 238.43,125.99 240.48,125.73 242.53,125.47 244.58,125.22 246.63,124.96 248.69,124.71 250.74,124.46 252.79,124.21 254.84,123.97 256.89,123.73 258.95,123.48 261.00,123.24 263.05,123.01 265.10,122.77 267.15,122.54 269.21,122.30 271.26,122.07 273.31,121.85 275.36,121.62 277.41,121.39 279.47,121.17 281.52,120.95 283.57,120.73 285.62,120.51" stroke="#4684c0" stroke-width="0.8" fill="none"/>
<polyline points="27.50,264.40 27.74,255.34 27.97,250.03 28.21,246.09 28.44,242.94 28.68,240.30 28.92,238.02 29.15,236.02 29.39,234.22 29.62,232.60 29.86,231.11 30.10,229.73 30.33,228.46 30.57,227.27 30.81,226.15 31.04,225.09 31.28,224.10 31.51,223.15 31.75,222.24 31.99,221.38 32.22,220.56 32.46,219.77 32.69,219.00 32.93,218.27 33.17,217.57 33.40,216.88 33.64,216.23 33.87,215.59 34.11,214.97 34.35,214.37 34.58,213.78 34.82,213.22 35.06,212.66 35.29,212.13 35.53,211.60 35.76,211.09 36.00,210.59 36.24,210.10 36.47,209.63 36.71,209.16 36.94,208.70 37.18,208.26 37.42,207.82 37.65,207.39 37.89,206.97 38.12,206.56 38.36,206.15 38.60,205.75 38.83,205.36 39.07,204.98 39.31,204.60 39.54,204.23 39.78,203.87 40.01,203.51 40.25,203.16 40.49,202.81 40.72,202.47 40.96,202.13 41.19,201.80 41.43,201.47 43.48,198.80 45.53,196.41 47.59,194.25 49.64,192.26 51.69,190.42 53.74,188.71 55.79,187.12 57.85,185.61 59.90,184.20 61.95,182.86 64.00,181.58 66.05,180.37 68.11,179.21 70.16,178.11 72.21,177.04 74.26,176.02 76.31,175.04 78.37,174.10 80.42,173.19 82.47,172.31 84.52,171.45 86.57,170.63 88.63,169.83 90.68,169.06 92.73,168.30 94.78,167.57 96.84,166.86 98.89,166.17 100.94,165.50 102.99,164.84 105.04,164.20 107.10,163.58 109.15,162.97 111.20,162.37 113.25,161.79 115.30,161.22 117.36,160.67 119.41,160.12 121.46,159.59 123.51,159.07 125.56,158.56 127.62,158.06 129.67,157.57 131.72,157.09 133.77,156.62 135.82,156.16 137.88,155.71 139.93,155.26 141.98,154.83 144.03,154.40 146.08,153.98 148.14,153.57 150.19,153.16 152.24,152.76 154.29,152.37 156.34,151.98 158.40,151.60 160.45,151.23 162.50,150.86 164.55,150.50 166.60,150.15 168.66,149.80 170.71,149.45 172.76,149.12 174.81,148.78 176.86,148.45 178.92,148.13 180.97,147.81 183.02,147.50 185.07,147.19 187.12,146.89 189.18,146.58 191.23,146.29 193.28,146.00 195.33,145.71 197.39,145.43 199.44,145.15 201.49,144.87 203.54,144.60 205.59,144.33 207.65,144.07 209.70,143.81 211.75,143.55 213.80,143.30 215.85,143.05 217.91,142.80 219.96,142.55 222.01,142.31 224.06,142.08 226.11,141.84 228.17,141.61 230.22,141.38 232.27,141.16 234.32,140.93 236.37,140.71 238.43,140.50 240.48,140.28 242.53,140.07 244.58,139.86 246.63,139.66 248.69,139.45 250.74,139.25 252.79,139.05 254.84,138.86 256.89,138.66 258.95,138.47 261.00,138.28 263.05,138.10 265.10,137.91 267.15,137.73 269.21,137.55 271.26,137.37 273.31,137.20 275.36,137.02 277.41,136.85 279.47,136.68 281.52,136.51 283.57,136.35 285.62,136.18" stroke="#e8bd45" stroke-width="0.8" fill="none"/>
<polyline points="27.50,264.40 27.74,258.42 27.97,255.30 28.21,253.16 28.44,251.53 28.68,250.22 28.92,249.12 29.15,248.16 29.39,247.33 29.62,246.58 29.86,245.91 30.10,245.29 30.33,244.73 30.57,244.21 30.81,243.72 31.04,243.26 31.28,242.84 31.51,242.43 31.75,242.05 31.99,241.69 32.22,241.34 32.46,241.01 32.69,240.70 32.93,240.40 33.17,240.11 33.40,239.83 33.64,239.56 33.87,239.31 34.11,239.06 34.35,238.81 34.58,238.58 34.82,238.35 35.06,238.14 35.29,237.92 35.53,237.72 35.76,237.51 36.00,237.32 36.24,237.13 36.47,236.94 36.71,236.76 36.94,236.58 37.18,236.41 37.42,236.24 37.65,236.07 37.89,235.91 38.12,235.75 38.36,235.60 38.60,235.44 38.83,235.30 39.07,235.15 39.31,235.01 39.54,234.86 39.78,234.73 40.01,234.59 40.25,234.46 40.49,234.32 40.72,234.20 40.96,234.07 41.19,233.94 41.43,233.82 43.48,232.83 45.53,231.94 47.59,231.15 49.64,230.42 51.69,229.76 53.74,229.14 55.79,228.56 57.85,228.02 59.90,227.51 61.95,227.03 64.00,226.57 66.05,226.14 68.11,225.72 70.16,225.32 72.21,224.94 74.26,224.57 76.31,224.21 78.37,223.87 80.42,223.54 82.47,223.22 84.52,222.90 86.57,222.60 88.63,222.31 90.68,222.02 92.73,221.74 94.78,221.46 96.84,221.20 98.89,220.94 100.94,220.68 102.99,220.43 105.04,220.19 107.10,219.95 109.15,219.71 111.20,219.48 113.25,219.26 115.30,219.03 117.36,218.82 119.41,218.60 121.46,218.39 123.51,218.18 125.56,217.98 127.62,217.77 129.67,217.57 131.72,217.38 133.77,217.19 135.82,216.99 137.88,216.81 139.93,216.62 141.98,216.44 144.03,216.25 146.08,216.08 148.14,215.90 150.19,215.72 152.24,215.55 154.29,215.38 156.34,215.21 158.40,215.04 160.45,214.88 162.50,214.71 164.55,214.55 166.60,214.39 168.66,214.23 170.71,214.07 172.76,213.91 174.81,213.76 176.86,213.60 178.92,213.45 180.97,213.30 183.02,213.15 185.07,213.00 187.12,212.85 189.18,212.71 191.23,212.56 193.28,212.42 195.33,212.27 197.39,212.13 199.44,211.99 201.49,211.85 203.54,211.71 205.59,211.57 207.65,211.44 209.70,211.30 211.75,211.17 213.80,211.03 215.85,210.90 217.91,210.77 219.96,210.63 222.01,210.50 224.06,210.37 226.11,210.24 228.17,210.11 230.22,209.99 232.27,209.86 234.32,209.73 236.37,209.61 238.43,209.48 240.48,209.36 242.53,209.23 244.58,209.11 246.63,208.99 248.69,208.86 250.74,208.74 252.79,208.62 254.84,208.50 256.89,208.38 258.95,208.26 261.00,208.15 263.05,208.03 265.10,207.91 267.15,207.79 269.21,207.68 271.26,207.56 273.31,207.45 275.36,207.33 277.41,207.22 279.47,207.10 281.52,206.99 283.57,206.88 285.62,206.76" stroke="#3f6290" stroke-width="0.8" fill="none"/>
<polyline points="27.50,264.40 27.74,257.94 27.97,256.64 28.21,255.85 28.44,255.27 28.68,254.82 28.92,254.44 29.15,254.11 29.39,253.83 29.62,253.57 29.86,253.34 30.10,253.13 30.33,252.94 30.57,252.76 30.81,252.59 31.04,252.43 31.28,252.28 31.51,252.14 31.75,252.00 31.99,251.87 32.22,251.75 32.46,251.63 32.69,251.52 32.93,251.41 33.17,251.31 33.40,251.21 33.64,251.11 33.87,251.01 34.11,250.92 34.35,250.83 34.58,250.74 34.82,250.66 35.06,250.58 35.29,250.50 35.53,250.42 35.76,250.34 36.00,250.27 36.24,250.20 36.47,250.13 36.71,250.06 36.94,249.99 37.18,249.92 37.42,249.86 37.65,249.79 37.89,249.73 38.12,249.67 38.36,249.61 38.60,249.55 38.83,249.49 39.07,249.43 39.31,249.37 39.54,249.32 39.78,249.26 40.01,249.21 40.25,249.16 40.49,249.10 40.72,249.05 40.96,249.00 41.19,248.95 41.43,248.90 43.48,248.49 45.53,248.12 47.59,247.79 49.64,247.48 51.69,247.18 53.74,246.91 55.79,246.65 57.85,246.41 59.90,246.18 61.95,245.95 64.00,245.74 66.05,245.54 68.11,245.34 70.16,245.15 72.21,244.96 74.26,244.79 76.31,244.61 78.37,244.44 80.42,244.28 82.47,244.12 84.52,243.97 86.57,243.81 88.63,243.67 90.68,243.52 92.73,243.38 94.78,243.24 96.84,243.10 98.89,242.97 100.94,242.84 102.99,242.71 105.04,242.59 107.10,242.46 109.15,242.34 111.20,242.22 113.25,242.10 115.30,241.98 117.36,241.87 119.41,241.75 121.46,241.64 123.51,241.53 125.56,241.42 127.62,241.32 129.67,241.21 131.72,241.11 133.77,241.00 135.82,240.90 137.88,240.80 139.93,240.70 141.98,240.60 144.03,240.50 146.08,240.41 148.14,240.31 150.19,240.22 152.24,240.12 154.29,240.03 156.34,239.94 158.40,239.85 160.45,239.76 162.50,239.67 164.55,239.58 166.60,239.49 168.66,239.40 170.71,239.32 172.76,239.23 174.81,239.15 176.86,239.06 178.92,238.98 180.97,238.90 183.02,238.81 185.07,238.73 187.12,238.65 189.18,238.57 191.23,238.49 193.28,238.41 195.33,238.33 197.39,238.25 199.44,238.18 201.49,238.10 203.54,238.02 205.59,237.95 207.65,237.87 209.70,237.80 211.75,237.72 213.80,237.65 215.85,237.57 217.91,237.50 219.96,237.43 222.01,237.36 224.06,237.28 226.11,237.21 228.17,237.14 230.22,237.07 232.27,237.00 234.32,236.93 236.37,236.86 238.43,236.79 240.48,236.72 242.53,236.66 244.58,236.59 246.63,236.52 248.69,236.45 250.74,236.38 252.79,236.32 254.84,236.25 256.89,236.19 258.95,236.12 261.00,236.05 263.05,235.99 265.10,235.92 267.15,235.86 269.21,235.80 271.26,235.73 273.31,235.67 275.36,235.61 277.41,235.54 279.47,235.48 281.52,235.42 283.57,235.35 285.62,235.29" stroke="#e88c7c" stroke-width="0.7" fill="none"/>
<path d="M27.5 26.4H305.8V264.4" stroke="#8a8a8a" stroke-width="0.9" fill="none"/>
<path d="M27.5 26.4V264.4H305.8" stroke="#7a7a7a" stroke-width="1" fill="none"/>
<path d="M24.3 264.40H27.5" stroke="#666" stroke-width="0.8"/>
<text x="23" y="266.70" text-anchor="end" style="font-size:6.2px" fill="#262626">0</text>
<path d="M24.3 234.70H27.5" stroke="#666" stroke-width="0.8"/>
<text x="23" y="237.00" text-anchor="end" style="font-size:6.2px" fill="#262626">50</text>
<path d="M24.3 205.00H27.5" stroke="#666" stroke-width="0.8"/>
<text x="23" y="207.30" text-anchor="end" style="font-size:6.2px" fill="#262626">100</text>
<path d="M24.3 175.30H27.5" stroke="#666" stroke-width="0.8"/>
<text x="23" y="177.60" text-anchor="end" style="font-size:6.2px" fill="#262626">150</text>
<path d="M24.3 145.60H27.5" stroke="#666" stroke-width="0.8"/>
<text x="23" y="147.90" text-anchor="end" style="font-size:6.2px" fill="#262626">200</text>
<path d="M24.3 115.90H27.5" stroke="#666" stroke-width="0.8"/>
<text x="23" y="118.20" text-anchor="end" style="font-size:6.2px" fill="#262626">250</text>
<path d="M24.3 86.20H27.5" stroke="#666" stroke-width="0.8"/>
<text x="23" y="88.50" text-anchor="end" style="font-size:6.2px" fill="#262626">300</text>
<path d="M24.3 56.50H27.5" stroke="#666" stroke-width="0.8"/>
<text x="23" y="58.80" text-anchor="end" style="font-size:6.2px" fill="#262626">350</text>
<path d="M24.3 26.80H27.5" stroke="#666" stroke-width="0.8"/>
<text x="23" y="29.10" text-anchor="end" style="font-size:6.2px" fill="#262626">400</text>
<path d="M27.50 264.4V267" stroke="#666" stroke-width="0.8"/>
<text x="27.50" y="273.1" text-anchor="middle" style="font-size:6.2px" fill="#262626">0</text>
<path d="M62.32 264.4V267" stroke="#666" stroke-width="0.8"/>
<text x="62.32" y="273.1" text-anchor="middle" style="font-size:6.2px" fill="#262626">5000</text>
<path d="M97.15 264.4V267" stroke="#666" stroke-width="0.8"/>
<text x="97.15" y="273.1" text-anchor="middle" style="font-size:6.2px" fill="#262626">10000</text>
<path d="M131.97 264.4V267" stroke="#666" stroke-width="0.8"/>
<text x="131.97" y="273.1" text-anchor="middle" style="font-size:6.2px" fill="#262626">15000</text>
<path d="M166.80 264.4V267" stroke="#666" stroke-width="0.8"/>
<text x="166.80" y="273.1" text-anchor="middle" style="font-size:6.2px" fill="#262626">20000</text>
<path d="M201.62 264.4V267" stroke="#666" stroke-width="0.8"/>
<text x="201.62" y="273.1" text-anchor="middle" style="font-size:6.2px" fill="#262626">25000</text>
<path d="M236.45 264.4V267" stroke="#666" stroke-width="0.8"/>
<text x="236.45" y="273.1" text-anchor="middle" style="font-size:6.2px" fill="#262626">30000</text>
<path d="M271.27 264.4V267" stroke="#666" stroke-width="0.8"/>
<text x="271.27" y="273.1" text-anchor="middle" style="font-size:6.2px" fill="#262626">35000</text>
<path d="M306.10 264.4V267" stroke="#666" stroke-width="0.8"/>
<text x="306.10" y="273.1" text-anchor="middle" style="font-size:6.2px" fill="#262626">40000</text>
<text x="122" y="282.5" textLength="89.4" lengthAdjust="spacingAndGlyphs" style="font-weight:bold;font-size:7.1px">Number of Reads Sampled</text>
<text transform="translate(9.7 186.9) rotate(-90)" textLength="82.5" lengthAdjust="spacingAndGlyphs" style="font-weight:bold;font-size:7.2px">Sobs index on OTU level</text>
<path d="M314 31.70H321.6" stroke="#7fb2e0" stroke-width="0.9"/>
<text x="323" y="33.90" style="font-size:6.05px" fill="#1e1e1e">Res_21</text>
<path d="M314 43.55H321.6" stroke="#efc04a" stroke-width="0.9"/>
<text x="323" y="45.75" style="font-size:6.05px" fill="#1e1e1e">Sus_21</text>
<path d="M314 55.40H321.6" stroke="#a3a3a3" stroke-width="0.9"/>
<text x="323" y="57.60" style="font-size:6.05px" fill="#1e1e1e">Res_42</text>
<path d="M314 67.25H321.6" stroke="#e08080" stroke-width="0.9"/>
<text x="323" y="69.45" style="font-size:6.05px" fill="#1e1e1e">Res_7</text>
<path d="M314 79.10H321.6" stroke="#b8d2ec" stroke-width="0.9"/>
<text x="323" y="81.30" style="font-size:6.05px" fill="#1e1e1e">Sus_42</text>
<path d="M314 90.95H321.6" stroke="#9fb3c9" stroke-width="1.2"/>
<text x="323" y="93.15" style="font-size:6.05px" fill="#1e1e1e">Sus_7</text>
<text x="375.4" y="11.25" style="font-family:'Liberation Serif',serif;font-weight:bold;font-size:16.3px">B</text>
<text x="487.5" y="15.6" textLength="79.7" lengthAdjust="spacingAndGlyphs" style="font-weight:bold;font-size:9px">PCoA on OTU level</text>
<rect x="493.5" y="17.5" width="63" height="11.5" fill="#f8f8f8"/>
<text x="495.1" y="26" textLength="59.8" lengthAdjust="spacingAndGlyphs" style="font-family:'Liberation Serif',serif;font-size:7.8px" fill="#6a6a6a">R=0.7291, <tspan font-style="italic" fill="#333">P</tspan>=0.001</text>
<path d="M485.3 33.35V265.2" stroke="#555" stroke-width="0.9" stroke-dasharray="1.3 1.65" fill="none"/>
<path d="M395.65 148.1H647" stroke="#555" stroke-width="0.9" stroke-dasharray="1.3 1.65" fill="none"/>
<path d="M393 30.5H647.4V265.3" stroke="#8a8a8a" stroke-width="0.9" fill="none"/>
<path d="M393 30.5V265.3H647.4" stroke="#7a7a7a" stroke-width="1" fill="none"/>
<path d="M389.5 30.41H393" stroke="#666" stroke-width="0.8"/>
<text x="388.3" y="32.71" text-anchor="end" style="font-size:6.2px" fill="#262626">0.6</text>
<path d="M389.5 69.54H393" stroke="#666" stroke-width="0.8"/>
<text x="388.3" y="71.84" text-anchor="end" style="font-size:6.2px" fill="#262626">0.4</text>
<path d="M389.5 108.67H393" stroke="#666" stroke-width="0.8"/>
<text x="388.3" y="110.97" text-anchor="end" style="font-size:6.2px" fill="#262626">0.2</text>
<path d="M389.5 147.80H393" stroke="#666" stroke-width="0.8"/>
<text x="388.3" y="150.10" text-anchor="end" style="font-size:6.2px" fill="#262626">0</text>
<path d="M389.5 186.93H393" stroke="#666" stroke-width="0.8"/>
<text x="388.3" y="189.23" text-anchor="end" style="font-size:6.2px" fill="#262626">-0.2</text>
<path d="M389.5 226.06H393" stroke="#666" stroke-width="0.8"/>
<text x="388.3" y="228.36" text-anchor="end" style="font-size:6.2px" fill="#262626">-0.4</text>
<path d="M389.5 265.19H393" stroke="#666" stroke-width="0.8"/>
<text x="388.3" y="267.49" text-anchor="end" style="font-size:6.2px" fill="#262626">-0.6</text>
<path d="M393.00 265.2V267.8" stroke="#666" stroke-width="0.8"/>
<text x="393.00" y="274.8" text-anchor="middle" style="font-size:6.2px" fill="#262626">-0.4</text>
<path d="M416.10 265.2V267.8" stroke="#666" stroke-width="0.8"/>
<text x="416.10" y="274.8" text-anchor="middle" style="font-size:6.2px" fill="#262626">-0.3</text>
<path d="M439.20 265.2V267.8" stroke="#666" stroke-width="0.8"/>
<text x="439.20" y="274.8" text-anchor="middle" style="font-size:6.2px" fill="#262626">-0.2</text>
<path d="M462.30 265.2V267.8" stroke="#666" stroke-width="0.8"/>
<text x="462.30" y="274.8" text-anchor="middle" style="font-size:6.2px" fill="#262626">-0.1</text>
<path d="M485.40 265.2V267.8" stroke="#666" stroke-width="0.8"/>
<text x="485.40" y="274.8" text-anchor="middle" style="font-size:6.2px" fill="#262626">0</text>
<path d="M508.50 265.2V267.8" stroke="#666" stroke-width="0.8"/>
<text x="508.50" y="274.8" text-anchor="middle" style="font-size:6.2px" fill="#262626">0.1</text>
<path d="M531.60 265.2V267.8" stroke="#666" stroke-width="0.8"/>
<text x="531.60" y="274.8" text-anchor="middle" style="font-size:6.2px" fill="#262626">0.2</text>
<path d="M554.70 265.2V267.8" stroke="#666" stroke-width="0.8"/>
<text x="554.70" y="274.8" text-anchor="middle" style="font-size:6.2px" fill="#262626">0.3</text>
<path d="M577.80 265.2V267.8" stroke="#666" stroke-width="0.8"/>
<text x="577.80" y="274.8" text-anchor="middle" style="font-size:6.2px" fill="#262626">0.4</text>
<path d="M600.90 265.2V267.8" stroke="#666" stroke-width="0.8"/>
<text x="600.90" y="274.8" text-anchor="middle" style="font-size:6.2px" fill="#262626">0.5</text>
<path d="M624.00 265.2V267.8" stroke="#666" stroke-width="0.8"/>
<text x="624.00" y="274.8" text-anchor="middle" style="font-size:6.2px" fill="#262626">0.6</text>
<path d="M647.10 265.2V267.8" stroke="#666" stroke-width="0.8"/>
<text x="647.10" y="274.8" text-anchor="middle" style="font-size:6.2px" fill="#262626">0.7</text>
<text x="497" y="283.3" textLength="46" lengthAdjust="spacingAndGlyphs" style="font-weight:bold;font-size:7px">PC1(24.76%)</text>
<text transform="translate(373.6 171.1) rotate(-90)" textLength="46.2" lengthAdjust="spacingAndGlyphs" style="font-weight:bold;font-size:7px">PC2(12.94%)</text>
<ellipse cx="453.84" cy="131.84" rx="40.96" ry="21.23" transform="rotate(-111.70 453.84 131.84)" fill="none" stroke="#4676b4" stroke-width="0.8"/>
<ellipse cx="456.40" cy="131.00" rx="8.60" ry="56.30" transform="rotate(143.20 456.40 131.00)" fill="none" stroke="#dc4a50" stroke-width="0.8"/>
<ellipse cx="447.96" cy="162.77" rx="30.81" ry="16.72" transform="rotate(-154.37 447.96 162.77)" fill="none" stroke="#6cc06c" stroke-width="0.8"/>
<ellipse cx="607.25" cy="90.17" rx="14.43" ry="42.07" transform="rotate(162.30 607.25 90.17)" fill="none" stroke="#58b2c8" stroke-width="0.8"/>
<ellipse cx="443.70" cy="159.10" rx="12.60" ry="28.88" transform="rotate(138.28 443.70 159.10)" fill="none" stroke="#ad92cc" stroke-width="0.8"/>
<ellipse cx="573.41" cy="208.89" rx="14.65" ry="28.67" transform="rotate(-137.61 573.41 208.89)" fill="none" stroke="#f2bca6" stroke-width="0.8"/>
<path d="M453.53 131.97L458.60 101.70M453.53 131.97L456.70 108.60M453.53 131.97L466.20 109.00M453.53 131.97L435.50 118.40M453.53 131.97L432.20 112.70M453.53 131.97L427.50 128.90M453.53 131.97L447.90 144.30M453.53 131.97L471.70 152.50M453.53 131.97L458.00 167.80M453.53 131.97L481.00 175.80" stroke="#1a1a1a" stroke-width="0.95" stroke-dasharray="1.7 2.0" fill="none"/>
<path d="M456.52 131.05L439.70 99.40M456.52 131.05L429.00 108.30M456.52 131.05L432.80 110.40M456.52 131.05L441.30 108.50M456.52 131.05L444.60 108.10M456.52 131.05L452.50 122.00M456.52 131.05L457.70 128.80M456.52 131.05L490.20 160.50M456.52 131.05L479.80 176.80M456.52 131.05L497.60 187.70" stroke="#1a1a1a" stroke-width="0.95" stroke-dasharray="1.7 2.0" fill="none"/>
<path d="M447.88 162.32L428.40 140.10M447.88 162.32L427.00 146.70M447.88 162.32L436.80 152.70M447.88 162.32L427.60 159.00M447.88 162.32L430.30 160.50M447.88 162.32L445.30 164.30M447.88 162.32L447.50 171.00M447.88 162.32L460.70 172.50M447.88 162.32L461.20 175.80M447.88 162.32L456.60 191.30M447.88 162.32L494.80 160.50M447.88 162.32L458.40 153.40" stroke="#1a1a1a" stroke-width="0.95" stroke-dasharray="1.7 2.0" fill="none"/>
<path d="M607.03 91.30L583.10 60.00M607.03 91.30L594.40 63.00M607.03 91.30L617.90 67.90M607.03 91.30L611.10 85.70M607.03 91.30L616.40 105.70M607.03 91.30L613.90 123.50M607.03 91.30L612.40 133.30" stroke="#1a1a1a" stroke-width="0.95" stroke-dasharray="1.7 2.0" fill="none"/>
<path d="M442.97 159.75L423.80 136.40M442.97 159.75L422.00 141.70M442.97 159.75L426.60 142.30M442.97 159.75L437.60 155.70M442.97 159.75L456.30 153.60M442.97 159.75L451.40 162.10M442.97 159.75L450.30 169.30M442.97 159.75L452.40 176.90M442.97 159.75L446.00 186.40M442.97 159.75L463.30 173.10" stroke="#1a1a1a" stroke-width="0.95" stroke-dasharray="1.7 2.0" fill="none"/>
<path d="M573.37 209.10L583.50 177.00M573.37 209.10L597.50 198.80M573.37 209.10L569.00 206.90M573.37 209.10L580.90 216.50M573.37 209.10L559.80 218.90M573.37 209.10L554.40 220.40M573.37 209.10L568.50 225.20" stroke="#1a1a1a" stroke-width="0.95" stroke-dasharray="1.7 2.0" fill="none"/>
<circle cx="458.60" cy="101.70" r="2.35" fill="#1f4e96" stroke="#111" stroke-width="0.6"/>
<circle cx="456.70" cy="108.60" r="2.35" fill="#1f4e96" stroke="#111" stroke-width="0.6"/>
<circle cx="466.20" cy="109.00" r="2.35" fill="#1f4e96" stroke="#111" stroke-width="0.6"/>
<circle cx="435.50" cy="118.40" r="2.35" fill="#1f4e96" stroke="#111" stroke-width="0.6"/>
<circle cx="432.20" cy="112.70" r="2.35" fill="#1f4e96" stroke="#111" stroke-width="0.6"/>
<circle cx="427.50" cy="128.90" r="2.35" fill="#1f4e96" stroke="#111" stroke-width="0.6"/>
<circle cx="447.90" cy="144.30" r="2.35" fill="#1f4e96" stroke="#111" stroke-width="0.6"/>
<circle cx="471.70" cy="152.50" r="2.35" fill="#1f4e96" stroke="#111" stroke-width="0.6"/>
<circle cx="458.00" cy="167.80" r="2.35" fill="#1f4e96" stroke="#111" stroke-width="0.6"/>
<circle cx="481.00" cy="175.80" r="2.35" fill="#1f4e96" stroke="#111" stroke-width="0.6"/>
<circle cx="439.70" cy="99.40" r="2.35" fill="#d7202c" stroke="#111" stroke-width="0.6"/>
<circle cx="429.00" cy="108.30" r="2.35" fill="#d7202c" stroke="#111" stroke-width="0.6"/>
<circle cx="432.80" cy="110.40" r="2.35" fill="#d7202c" stroke="#111" stroke-width="0.6"/>
<circle cx="441.30" cy="108.50" r="2.35" fill="#d7202c" stroke="#111" stroke-width="0.6"/>
<circle cx="444.60" cy="108.10" r="2.35" fill="#d7202c" stroke="#111" stroke-width="0.6"/>
<circle cx="452.50" cy="122.00" r="2.35" fill="#d7202c" stroke="#111" stroke-width="0.6"/>
<circle cx="457.70" cy="128.80" r="2.35" fill="#d7202c" stroke="#111" stroke-width="0.6"/>
<circle cx="490.20" cy="160.50" r="2.35" fill="#d7202c" stroke="#111" stroke-width="0.6"/>
<circle cx="479.80" cy="176.80" r="2.35" fill="#d7202c" stroke="#111" stroke-width="0.6"/>
<circle cx="497.60" cy="187.70" r="2.35" fill="#d7202c" stroke="#111" stroke-width="0.6"/>
<circle cx="428.40" cy="140.10" r="2.35" fill="#3aa043" stroke="#111" stroke-width="0.6"/>
<circle cx="427.00" cy="146.70" r="2.35" fill="#3aa043" stroke="#111" stroke-width="0.6"/>
<circle cx="436.80" cy="152.70" r="2.35" fill="#3aa043" stroke="#111" stroke-width="0.6"/>
<circle cx="427.60" cy="159.00" r="2.35" fill="#3aa043" stroke="#111" stroke-width="0.6"/>
<circle cx="430.30" cy="160.50" r="2.35" fill="#3aa043" stroke="#111" stroke-width="0.6"/>
<circle cx="445.30" cy="164.30" r="2.35" fill="#3aa043" stroke="#111" stroke-width="0.6"/>
<circle cx="447.50" cy="171.00" r="2.35" fill="#3aa043" stroke="#111" stroke-width="0.6"/>
<circle cx="460.70" cy="172.50" r="2.35" fill="#3aa043" stroke="#111" stroke-width="0.6"/>
<circle cx="461.20" cy="175.80" r="2.35" fill="#3aa043" stroke="#111" stroke-width="0.6"/>
<circle cx="456.60" cy="191.30" r="2.35" fill="#3aa043" stroke="#111" stroke-width="0.6"/>
<circle cx="494.80" cy="160.50" r="2.35" fill="#3aa043" stroke="#111" stroke-width="0.6"/>
<circle cx="458.40" cy="153.40" r="2.35" fill="#3aa043" stroke="#111" stroke-width="0.6"/>
<circle cx="583.10" cy="60.00" r="2.35" fill="#2a8aa6" stroke="#111" stroke-width="0.6"/>
<circle cx="594.40" cy="63.00" r="2.35" fill="#2a8aa6" stroke="#111" stroke-width="0.6"/>
<circle cx="617.90" cy="67.90" r="2.35" fill="#2a8aa6" stroke="#111" stroke-width="0.6"/>
<circle cx="611.10" cy="85.70" r="2.35" fill="#2a8aa6" stroke="#111" stroke-width="0.6"/>
<circle cx="616.40" cy="105.70" r="2.35" fill="#2a8aa6" stroke="#111" stroke-width="0.6"/>
<circle cx="613.90" cy="123.50" r="2.35" fill="#2a8aa6" stroke="#111" stroke-width="0.6"/>
<circle cx="612.40" cy="133.30" r="2.35" fill="#2a8aa6" stroke="#111" stroke-width="0.6"/>
<circle cx="423.80" cy="136.40" r="2.35" fill="#7b52a0" stroke="#111" stroke-width="0.6"/>
<circle cx="422.00" cy="141.70" r="2.35" fill="#7b52a0" stroke="#111" stroke-width="0.6"/>
<circle cx="426.60" cy="142.30" r="2.35" fill="#7b52a0" stroke="#111" stroke-width="0.6"/>
<circle cx="437.60" cy="155.70" r="2.35" fill="#7b52a0" stroke="#111" stroke-width="0.6"/>
<circle cx="456.30" cy="153.60" r="2.35" fill="#7b52a0" stroke="#111" stroke-width="0.6"/>
<circle cx="451.40" cy="162.10" r="2.35" fill="#7b52a0" stroke="#111" stroke-width="0.6"/>
<circle cx="450.30" cy="169.30" r="2.35" fill="#7b52a0" stroke="#111" stroke-width="0.6"/>
<circle cx="452.40" cy="176.90" r="2.35" fill="#7b52a0" stroke="#111" stroke-width="0.6"/>
<circle cx="446.00" cy="186.40" r="2.35" fill="#7b52a0" stroke="#111" stroke-width="0.6"/>
<circle cx="463.30" cy="173.10" r="2.35" fill="#7b52a0" stroke="#111" stroke-width="0.6"/>
<circle cx="583.50" cy="177.00" r="2.35" fill="#f2a388" stroke="#111" stroke-width="0.6"/>
<circle cx="597.50" cy="198.80" r="2.35" fill="#f2a388" stroke="#111" stroke-width="0.6"/>
<circle cx="569.00" cy="206.90" r="2.35" fill="#f2a388" stroke="#111" stroke-width="0.6"/>
<circle cx="580.90" cy="216.50" r="2.35" fill="#f2a388" stroke="#111" stroke-width="0.6"/>
<circle cx="559.80" cy="218.90" r="2.35" fill="#f2a388" stroke="#111" stroke-width="0.6"/>
<circle cx="554.40" cy="220.40" r="2.35" fill="#f2a388" stroke="#111" stroke-width="0.6"/>
<circle cx="568.50" cy="225.20" r="2.35" fill="#f2a388" stroke="#111" stroke-width="0.6"/>
<circle cx="658.4" cy="35.60" r="3.6" fill="#1f4e96"/>
<text x="663.3" y="37.70" style="font-size:5.95px" fill="#1e1e1e">Res_21</text>
<circle cx="658.4" cy="46.80" r="3.6" fill="#d7202c"/>
<text x="663.3" y="48.90" style="font-size:5.95px" fill="#1e1e1e">Sus_21</text>
<circle cx="658.4" cy="58.00" r="3.6" fill="#3aa043"/>
<text x="663.3" y="60.10" style="font-size:5.95px" fill="#1e1e1e">Res_42</text>
<circle cx="658.4" cy="69.20" r="3.6" fill="#2a8aa6"/>
<text x="663.3" y="71.30" style="font-size:5.95px" fill="#1e1e1e">Res_7</text>
<circle cx="658.4" cy="80.40" r="3.6" fill="#7b52a0"/>
<text x="663.3" y="82.50" style="font-size:5.95px" fill="#1e1e1e">Sus_42</text>
<circle cx="658.4" cy="91.60" r="3.6" fill="#f2a388"/>
<text x="663.3" y="93.70" style="font-size:5.95px" fill="#1e1e1e">Sus_7</text>
</svg></body></html>
